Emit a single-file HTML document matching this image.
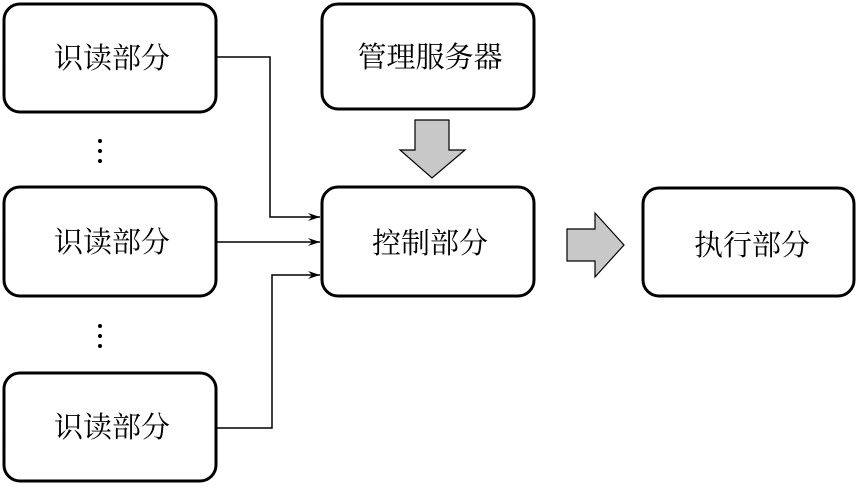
<!DOCTYPE html>
<html><head><meta charset="utf-8"><style>body{margin:0;background:#fff}</style></head><body>
<svg width="858" height="485" xmlns="http://www.w3.org/2000/svg" font-family="Noto Serif CJK SC, Liberation Serif, serif" font-size="29">
<defs><marker id="a" markerWidth="12" markerHeight="8" refX="12" refY="4" orient="auto" markerUnits="userSpaceOnUse"><path d="M0,0 L12,4 L0,8 L4,4 Z" fill="#000"/></marker></defs>
<g fill="#fff" stroke="#000" stroke-width="3">
<rect x="4" y="4" width="212" height="108" rx="16"/>
<rect x="4" y="187" width="212" height="109" rx="16"/>
<rect x="4" y="373" width="212" height="108" rx="16"/>
<rect x="322" y="4" width="212" height="105" rx="16"/>
<rect x="322" y="187" width="212" height="109" rx="16"/>
<rect x="643" y="188" width="211" height="108" rx="16"/>
</g>
<g fill="none" stroke="#000" stroke-width="1.5">
<path d="M217,57 H270 V217 H320" marker-end="url(#a)"/>
<path d="M217,242 H320" marker-end="url(#a)"/>
<path d="M217,428 H272 V275 H320" marker-end="url(#a)"/>
</g>
<g fill="#c8c8c8" stroke="#000" stroke-width="1.2">
<path d="M415,120 H449 V150 H465 L432,178 L400,150 H415 Z"/>
<path d="M567,229 H595 V213 L624,245 L595,277 V261 H567 Z"/>
</g>
<g fill="#000"><circle cx="100" cy="141" r="2"/><circle cx="100" cy="151" r="2"/><circle cx="100" cy="161" r="2"/>
<circle cx="100" cy="326" r="2"/><circle cx="100" cy="336" r="2"/><circle cx="100" cy="346" r="2"/></g>
<g text-anchor="middle" fill="#000">
<text x="112" y="68">识读部分</text>
<text x="112" y="252">识读部分</text>
<text x="112" y="437">识读部分</text>
<text x="430" y="67">管理服务器</text>
<text x="430" y="253">控制部分</text>
<text x="752" y="255">执行部分</text>
</g>
</svg>
</body></html>
